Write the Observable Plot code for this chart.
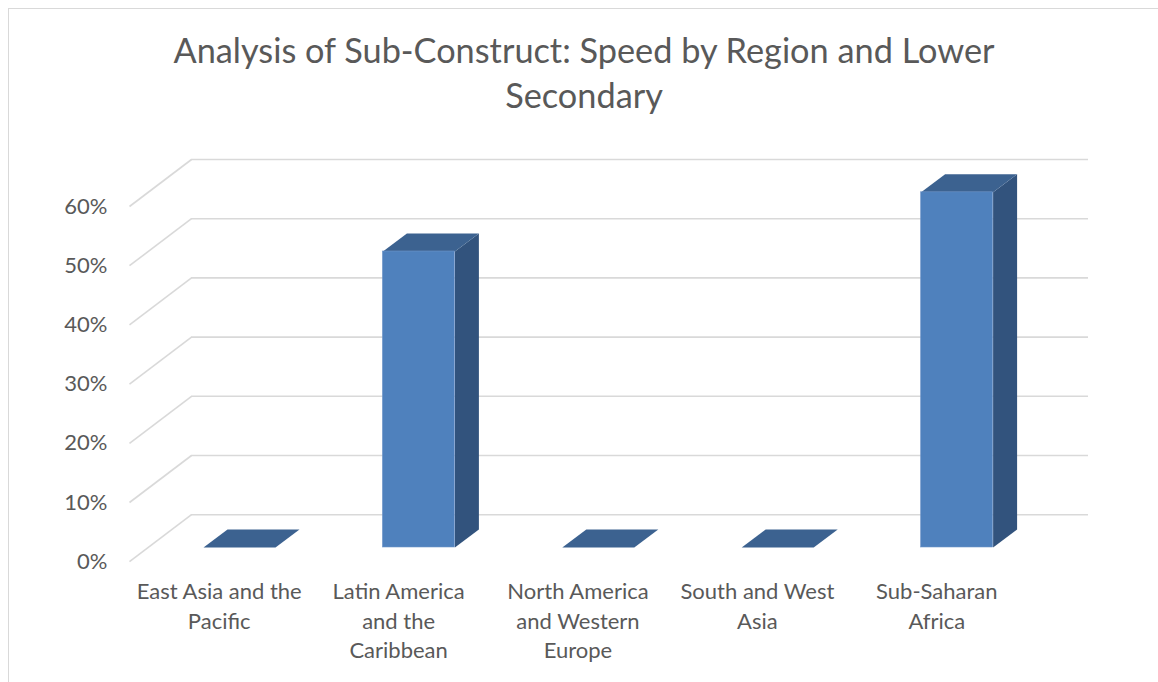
<!DOCTYPE html>
<html><head><meta charset="utf-8">
<script src="https://cdn.jsdelivr.net/npm/d3@7"></script>
<script src="https://cdn.jsdelivr.net/npm/@observablehq/plot@0.6"></script>
<style>
html,body{margin:0;padding:0;background:#fff;overflow:hidden}
#wrap{position:relative;width:1158px;height:682px;overflow:hidden;background:#fff}
#frame{position:absolute;left:7.5px;top:7.5px;width:1300px;height:900px;border:1.5px solid #d9d9d9;box-sizing:border-box}
#title{position:absolute;left:0;width:1168px;top:27px;text-align:center;font-family:Lato,"Open Sans",sans-serif;font-size:34.3px;line-height:45px;color:#595959;white-space:pre-line}
#chart{position:absolute;left:0;top:0}
</style></head>
<body>
<div id="wrap"><div id="frame"></div><div id="chart"></div><div id="title"></div></div>
<script>
const titleText = "Analysis of Sub-Construct: Speed by Region and Lower\nSecondary";
const categories = ["East Asia and the Pacific", "Latin America and the Caribbean", "North America and Western Europe", "South and West Asia", "Sub-Saharan Africa"];
const tickLabels = ["East Asia and the\nPacific", "Latin America\nand the\nCaribbean", "North America\nand Western\nEurope", "South and West\nAsia", "Sub-Saharan\nAfrica"];
const values = [0, 0.5, 0, 0, 0.6];
const yTicks = [0, 0.1, 0.2, 0.3, 0.4, 0.5, 0.6];

document.getElementById("title").textContent = titleText;

// layout (pixels)
const X0 = 149.3, X1 = 1046.3, Y0 = 547, Y1 = 191.8;
const kx = (X1 - X0) / 5, ky = (Y0 - Y1) / 0.6;
const front = {dx: -20.3, dy: 14.2};   // floor front edge relative to bar plane
const back = {dx: 41.7, dy: -32.8};    // back wall relative to bar plane
const bar = {w: 72, dx: 24, dy: -18};  // bar width and depth
const hw = bar.w / 2 / kx, bdx = bar.dx / kx, bdy = -bar.dy / ky;

const data = categories.map((c, i) => ({cat: c, label: tickLabels[i], i, v: values[i]}));
const topFace = data.flatMap(d => {
  const a = d.i + 0.5 - hw, b = d.i + 0.5 + hw;
  return [[a, d.v], [b, d.v], [b + bdx, d.v + bdy], [a + bdx, d.v + bdy]].map(([x, y]) => ({cat: d.cat, x, y}));
});
const sideFace = data.filter(d => d.v > 0).flatMap(d => {
  const b = d.i + 0.5 + hw;
  return [[b, 0], [b + bdx, bdy], [b + bdx, d.v + bdy], [b, d.v]].map(([x, y]) => ({cat: d.cat, x, y}));
});

const grid = "#d9d9d9";
const txt = "#595959";

const chart = Plot.plot({
  width: 1158, height: 682,
  marginTop: 0, marginRight: 0, marginBottom: 0, marginLeft: 0,
  style: {fontFamily: "Lato, 'Open Sans', sans-serif", background: "transparent"},
  x: {type: "linear", domain: [0, 5], range: [X0, X1], axis: null},
  y: {type: "linear", domain: [0, 0.6], range: [Y0, Y1], axis: null},
  marks: [
    Plot.ruleY(yTicks, {y: d => d, x1: 0, x2: 5, dx: back.dx, dy: back.dy, stroke: grid, strokeWidth: 1.6}),
    Plot.link(yTicks, {
      x1: front.dx / kx, y1: d => d - front.dy / ky,
      x2: back.dx / kx, y2: d => d - back.dy / ky,
      stroke: grid, strokeWidth: 1.6
    }),
    Plot.line(sideFace, {x: "x", y: "y", z: "cat", fill: "#32537d", stroke: "none"}),
    Plot.line(topFace, {x: "x", y: "y", z: "cat", fill: "#3c6290", stroke: "none"}),
    Plot.rect(data.filter(d => d.v > 0), {x1: d => d.i + 0.5 - hw, x2: d => d.i + 0.5 + hw, y1: 0, y2: "v", fill: "#4f81bd", stroke: "#7196c9", strokeWidth: 0.6}),
    Plot.text(yTicks, {x: 0, y: d => d, dx: front.dx - 22, dy: front.dy, text: d => `${Math.round(d * 100)}%`, textAnchor: "end", fontSize: 22, fill: txt}),
    Plot.text(data, {x: d => d.i + 0.5, y: 0, dx: front.dx, dy: 31, text: "label", lineAnchor: "top", lineHeight: 1.34, fontSize: 22, fill: txt})
  ]
});
document.getElementById("chart").appendChild(chart);
</script>
</body></html>
